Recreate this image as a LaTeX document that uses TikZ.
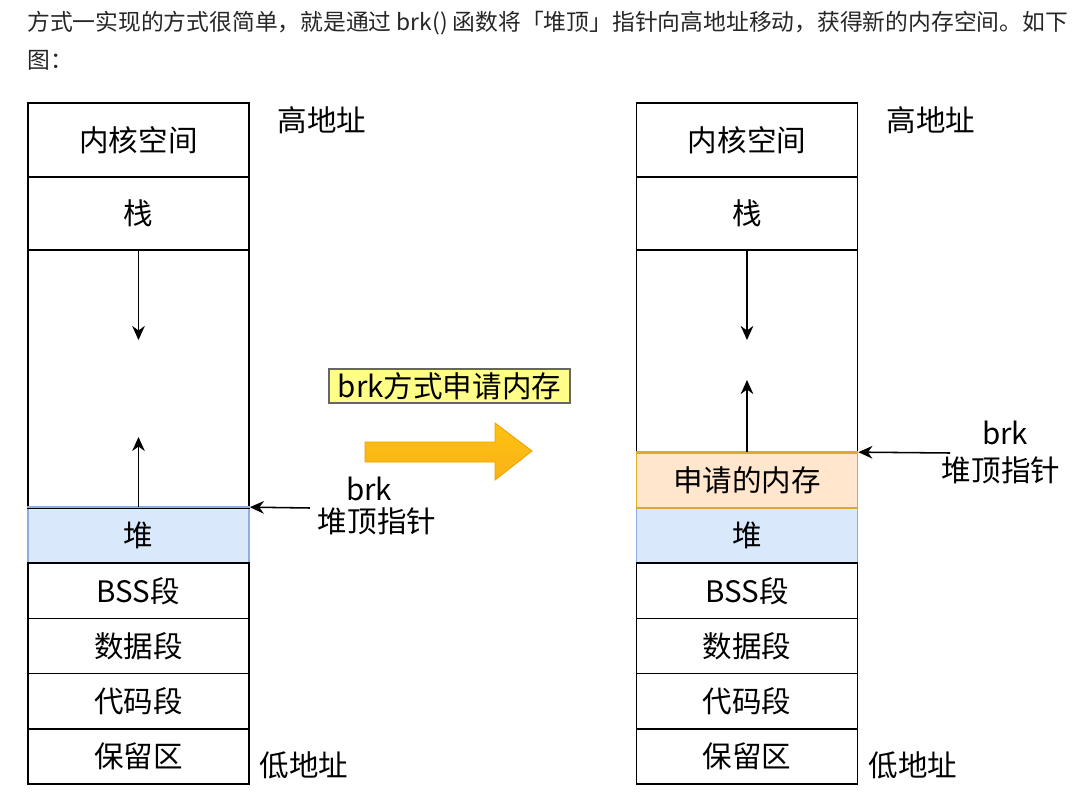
\documentclass[tikz,border=0pt]{standalone}
\usepackage{fontspec}
\setmainfont{Noto Sans CJK SC}
\usetikzlibrary{arrows.meta, positioning, calc}
\definecolor{heapblue}{HTML}{DAE8FC}
\definecolor{heapedge}{HTML}{8FAEDB}
\definecolor{reqorange}{HTML}{FFE6CC}
\definecolor{reqedge}{HTML}{E0A82E}
\definecolor{tagyellow}{HTML}{FFFF88}
\definecolor{bigarrow}{HTML}{FBB216}
\definecolor{bigedge}{HTML}{F0A000}
\newcommand{\pu}{0.025cm}
\tikzset{
  seg/.style={draw, line width=1.2pt, minimum width=221*\pu, inner sep=0pt, font=\fontsize{21}{25}\selectfont},
  ptr/.style={-{Stealth[length=10pt,width=9pt]}, line width=1.1pt},
  lbl/.style={font=\fontsize{21}{25}\selectfont, inner sep=0pt},
}

\begin{document}
\begin{tikzpicture}[x=\pu, y=-\pu]
\useasboundingbox (0,0) rectangle (1075,806);

% intro text
\node[anchor=west, inner sep=0pt, font=\fontsize{16.2}{20}\selectfont, text=black!85] (intro) at (27,23) {方式一实现的方式很简单，就是通过 brk() 函数将「堆顶」指针向高地址移动，获得新的内存空间。如下};
\node[anchor=west, inner sep=0pt, font=\fontsize{16.2}{20}\selectfont, text=black!85] (introb) at (27,60) {图：};

% both columns
\foreach \col/\xc in {L/138.5, R/747} {
    \node[seg, minimum height=74*\pu] (kern\col) at (\xc,140) {内核空间};
    \node[seg, minimum height=73*\pu] (stack\col) at (\xc,213.5) {栈};
    \node[seg, minimum height=55.2*\pu, fill=heapblue, draw=heapedge] (heap\col) at (\xc,535.6) {堆};
    \foreach \nm/\txt/\yc in {bss/BSS段/590.8, data/数据段/646, code/代码段/701.2, rsv/保留区/756.4} {
        \node[seg, minimum height=55.2*\pu] (\nm\col) at (\xc,\yc) {\txt};
    }
}

% free space
\node[seg, minimum height=258*\pu] (gapL) at (138.5,379) {};
\node[seg, minimum height=203*\pu] (gapR) at (747,351.5) {};
\node[seg, minimum height=55*\pu, fill=reqorange, draw=reqedge] (reqR) at (747,480.5) {申请的内存};
% redraw heap tops over the gap borders
\draw[heapedge, line width=1.2pt] (heapL.north west) -- (heapL.north east);
\draw[reqedge, line width=1.2pt] (reqR.north west) -- (reqR.north east);

% growth arrows
\coordinate (sdownL) at (138.5,340);
\coordinate (hupL) at (138.5,437);
\coordinate (sdownR) at (747,340);
\coordinate (hupR) at (747,380);
\draw[ptr] (stackL.south) -- (sdownL);
\draw[ptr] (heapL.north) -- (hupL);
\draw[ptr] (stackR.south) -- (sdownR);
\draw[ptr] (reqR.north) -- (hupR);

% addresses
\node[lbl] (highL) at (322,120) {高地址};
\node[lbl] (lowL) at (304,765) {低地址};
\node[lbl] (highR) at (931,120) {高地址};
\node[lbl] (lowR) at (913,765) {低地址};

% brk pointers
\coordinate (ptrL) at (310,508);
\coordinate (ptrR) at (950,453);
\draw[ptr] (ptrL) -- (heapL.north east);
\draw[ptr] (ptrR) -- (reqR.north east);
\node[lbl] (brkL) at (369,489) {brk};
\node[lbl] (topL) at (377,521) {堆顶指针};
\node[lbl] (brkR) at (1005,433) {brk};
\node[lbl] (topR) at (1001,470) {堆顶指针};

% brk label and big arrow
\node[lbl, draw=black!60, fill=tagyellow, line width=0.8pt, minimum width=241*\pu, minimum height=34*\pu] (tag) at (449.5,386) {brk方式申请内存};
\shade[top color=bigarrow!80!yellow, bottom color=bigarrow, draw=bigedge, line width=0.6pt] (365,442) -- (495,442) -- (495,423) -- (532,451) -- (495,480) -- (495,462) -- (365,462) -- cycle;
\end{tikzpicture}
\end{document}
